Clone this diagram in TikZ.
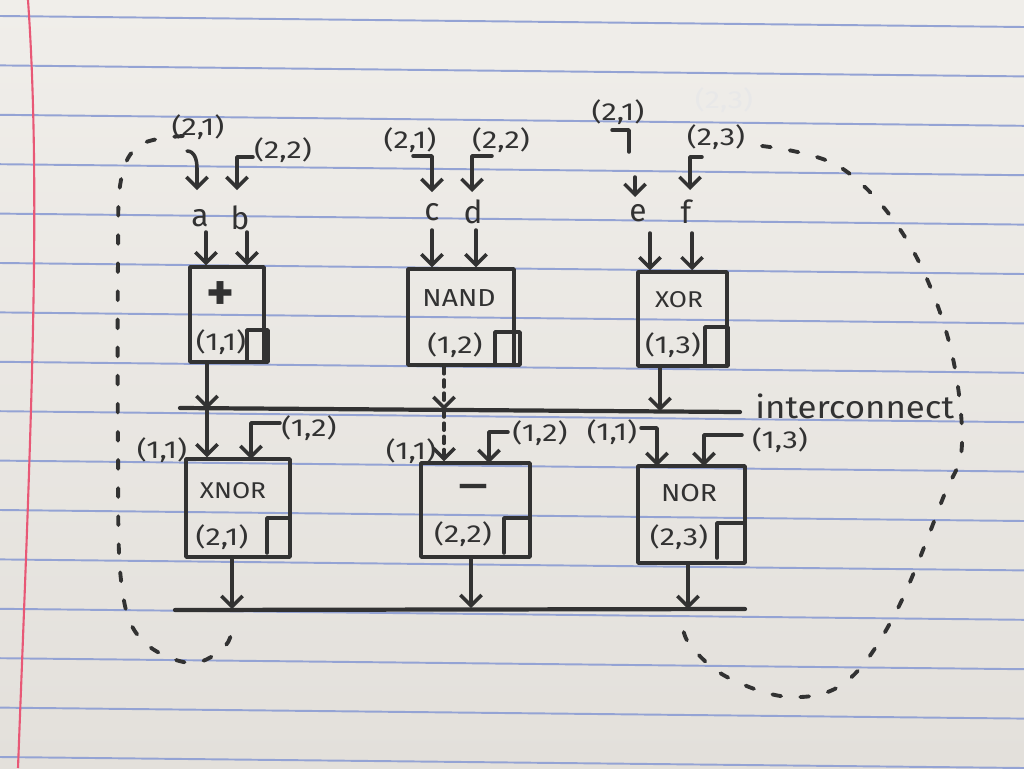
\documentclass[tikz,border=0pt]{standalone}
\usepackage{fontspec}
\setmainfont{Fira Sans}
\usepackage{graphicx}
\usetikzlibrary{arrows.meta}
\definecolor{ink}{RGB}{50,50,50}
\definecolor{papertop}{RGB}{240,238,234}
\definecolor{paperbot}{RGB}{227,224,219}
\definecolor{ruleblue}{RGB}{148,163,212}
\definecolor{marginred}{RGB}{232,88,118}
\newcommand{\hw}[1]{\scalebox{1.25}[1]{#1}}
\newcommand{\gw}[1]{\scalebox{1.15}[1]{#1}}
\begin{document}
\begin{tikzpicture}[x=0.02cm,y=-0.02cm,
  inkline/.style={draw=ink,line width=2pt,line cap=round,line join=round},
  arr/.style={inkline,-{Straight Barb[length=6pt,width=12pt]}},
  darr/.style={arr,dash pattern=on 4pt off 3.5pt},
  gate/.style={inkline,rectangle,inner sep=0pt},
  busline/.style={inkline,line width=2.4pt},
  lbl/.style={text=ink,inner sep=0pt,font=\fontsize{14}{14}\selectfont},
  var/.style={text=ink,inner sep=0pt,font=\fontsize{18}{18}\selectfont},
  op/.style={text=ink,inner sep=0pt,font=\fontsize{14}{14}\selectfont},
  loopline/.style={draw=ink,line width=2.2pt,line cap=round,dash pattern=on 5pt off 11pt},
  ruling/.style={draw=ruleblue,line width=1.1pt}]
% paper
\shade[top color=papertop,bottom color=paperbot] (0,0) rectangle (1024,768);
\useasboundingbox (0,0) rectangle (1024,768);
\foreach \k in {0,...,15} \draw[ruling] (0,{16+49.4*\k}) -- (1024,{27+49.4*\k});
\draw[draw=marginred,line width=1.2pt] (28,0) .. controls (42,200) and (30,450) .. (18,768);

% gates, first row
\node[gate,minimum width=1.48cm,minimum height=1.9cm] (B11) at (227,314.5) {};
\node[gate,minimum width=2.12cm,minimum height=1.92cm] (B12) at (461,317) {};
\node[gate,minimum width=1.78cm,minimum height=1.88cm] (B13) at (682.5,319) {};
% gates, second row
\node[gate,minimum width=2.08cm,minimum height=1.96cm] (B21) at (238,508) {};
\node[gate,minimum width=2.18cm,minimum height=1.88cm] (B22) at (475.5,510) {};
\node[gate,minimum width=2.14cm,minimum height=1.94cm] (B23) at (691.5,514.5) {};

% registers
\draw[inkline] (247,330) rectangle (268,362);
\draw[inkline] (495,332) rectangle (520,365);
\draw[inkline] (705,327) rectangle (728,366);
\draw[inkline] (267,553) -- (267,518) -- (290,518);
\draw[inkline] (504,553) -- (504,518) -- (530,518);
\draw[inkline] (717,558) -- (717,523) -- (745,523);

% gate texts
\node[op,font=\bfseries\fontsize{30}{30}\selectfont] (t11) at (220,296) {+};
\node[lbl] (c11) at (221,342) {\hw{(1,1)}};
\node[op] (t12) at (459,298) {\gw{NAND}};
\node[lbl] (c12) at (455,345) {\hw{(1,2)}};
\node[op,font=\fontsize{13}{13}\selectfont] (t13) at (679,300) {\gw{XOR}};
\node[lbl] (c13) at (673,345) {\hw{(1,3)}};
\node[op,font=\fontsize{13}{13}\selectfont] (t21) at (233,491) {\gw{XNOR}};
\node[lbl] (c21) at (222,537) {\hw{(2,1)}};
\node[op,font=\bfseries\fontsize{20}{20}\selectfont] (t22) at (473,491) {—};
\node[lbl] (c22) at (463,534) {\hw{(2,2)}};
\node[op] (t23) at (689,493) {\gw{NOR}};
\node[lbl] (c23) at (679,537) {\hw{(2,3)}};

% inputs a..f
\node[var] (a) at (200,218) {a};
\node[var] (b) at (240,218) {b};
\node[var] (c) at (432,212) {c};
\node[var] (d) at (473,212) {d};
\node[var] (e) at (638,213) {e};
\node[var] (f) at (686,212) {f};

% top labels
\node[lbl] (L1) at (198,127) {\hw{(2,1)}};
\node[lbl] (L2) at (283,150) {\hw{(2,2)}};
\node[lbl] (L3) at (410,140) {\hw{(2,1)}};
\node[lbl] (L4) at (501,140) {\hw{(2,2)}};
\node[lbl] (L5) at (618,112) {\hw{(2,1)}};
\node[lbl] (L6) at (716,137) {\hw{(2,3)}};
\node[lbl,text=black!9] (L6g) at (724,100) {\hw{(2,3)}};

% top input hooks
\coordinate (h1) at (187,151); \coordinate (ta) at (197,190);
\coordinate (h2) at (253,157); \coordinate (tb) at (237,190);
\coordinate (h3) at (413,156); \coordinate (tc) at (432,192);
\coordinate (h4) at (492,156); \coordinate (td) at (472,192);
\coordinate (h5) at (612,130); \coordinate (h5e) at (629,152);
\coordinate (h5a) at (635,177); \coordinate (te) at (635,197);
\coordinate (h6) at (702,157); \coordinate (tf) at (690,190);
\draw[arr] (h1) to[out=0,in=90] ++(10,17) -- (ta);
\draw[arr] (h2) -| (tb);
\draw[arr] (h3) -| (tc);
\draw[arr] (h4) -| (td);
\draw[inkline] (h5) -| (h5e);
\draw[arr] (h5a) -- (te);
\draw[arr] (h6) -| (tf);

% letters to gates
\coordinate (sa) at (206,232); \coordinate (sb) at (247,232);
\coordinate (sc) at (432,230); \coordinate (sd) at (476,230);
\coordinate (se) at (650,233); \coordinate (sf) at (692,233);
\draw[arr] (sa) -- (sa |- B11.north);
\draw[arr] (sb) -- (sb |- B11.north);
\draw[arr] (sc) -- (sc |- B12.north);
\draw[arr] (sd) -- (sd |- B12.north);
\draw[arr] (se) -- (se |- B13.north);
\draw[arr] (sf) -- (sf |- B13.north);

% interconnect
\coordinate (busL) at (180,408); \coordinate (busR) at (740,412);
\draw[busline] (busL) -- (busR);
\node[var,anchor=west,font=\fontsize{18}{18}\selectfont] (ic) at (755,406) {\scalebox{1.1}[1]{interconnect}};
\coordinate (i1) at (207,409); \coordinate (i2) at (444,410); \coordinate (i3) at (660,411);
\draw[arr] (i1 |- B11.south) -- (i1);
\draw[darr] (i2 |- B12.south) -- (i2);
\draw[arr] (i3 |- B13.south) -- (i3);
\draw[arr] (i1) -- (i1 |- B21.north);
\draw[darr] (i2) -- (i2 |- B22.north);

% second row labels and inputs
\node[lbl] (M1) at (162,450) {\hw{(1,1)}};
\node[lbl] (M2) at (309,428) {\hw{(1,2)}};
\node[lbl] (M3) at (411,451) {\hw{(1,1)}};
\node[lbl] (M4) at (540,433) {\hw{(1,2)}};
\node[lbl] (M5) at (612,432) {\hw{(1,1)}};
\node[lbl] (M6) at (780,440) {\hw{(1,3)}};
\coordinate (e2) at (280,423); \coordinate (k2) at (251,459);
\coordinate (m2) at (508,432); \coordinate (k4) at (489,463);
\coordinate (n1) at (641,428); \coordinate (k5) at (657,466);
\coordinate (n2) at (742,435); \coordinate (k6) at (704,466);
\draw[arr] (e2) -| (k2);
\draw[arr] (m2) -| (k4);
\draw[arr] (n1) -| (k5);
\draw[arr] (n2) -| (k6);

% outputs to lower bus
\coordinate (lbL) at (175,610); \coordinate (lbR) at (745,609);
\draw[busline] (lbL) -- (lbR);
\coordinate (o1) at (232,609); \coordinate (o2) at (471,608); \coordinate (o3) at (688,609);
\draw[arr] (o1 |- B21.south) -- (o1);
\draw[arr] (o2 |- B22.south) -- (o2);
\draw[arr] (o3 |- B23.south) -- (o3);

% feedback loops
\draw[loopline] plot[smooth,tension=0.6] coordinates {(183,136) (140,145) (121,180) (118,260) (118,450) (121,580) (140,638) (190,663) (226,645) (233,618)};
\draw[loopline] plot[smooth,tension=0.6] coordinates {(762,146) (840,167) (905,237) (948,338) (962,443) (943,498) (896,612) (847,681) (790,697) (727,677) (690,645) (682,622)};
\end{tikzpicture}
\end{document}
